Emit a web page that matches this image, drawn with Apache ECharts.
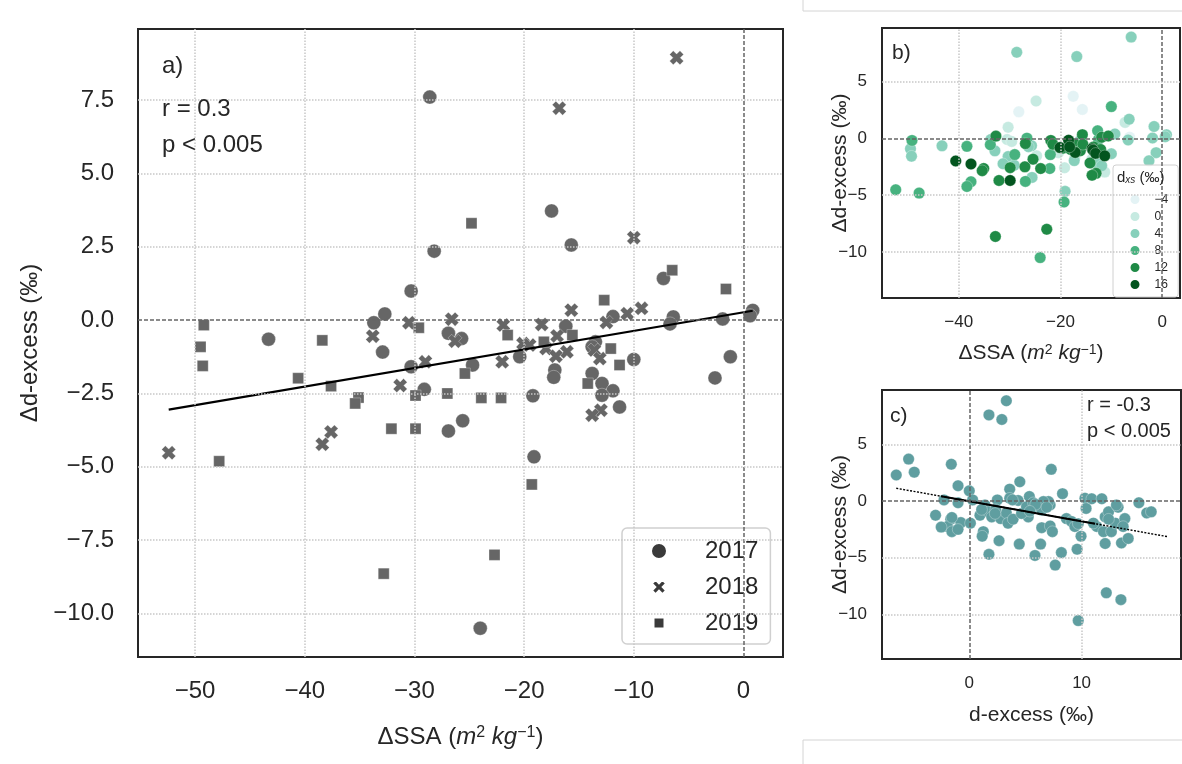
<!DOCTYPE html>
<html>
<head>
<meta charset="utf-8">
<script src="https://cdn.jsdelivr.net/npm/echarts@6/dist/echarts.min.js"></script>
<style>
  html, body { margin: 0; padding: 0; background: #fff; }
  #chart { width: 1182px; height: 764px; }
</style>
</head>
<body>
<div id="chart"></div>
<script>
// panel a / b : ΔSSA vs Δd-excess, per year
const pts2017 = [
  [-28.6, 7.6], [-28.2, 2.35], [-30.3, 0.99], [-32.7, 0.21], [-33.7, -0.09], [-26.9, -0.45], [-43.3, -0.65], [-32.9, -1.09], [-30.3, -1.59], [-29.1, -2.36],
  [-26.9, -3.78], [-25.6, -3.43], [-25.7, -0.63], [-17.5, 3.72], [-15.7, 2.56], [-7.3, 1.42], [0.84, 0.33], [0.6, 0.15], [-1.9, 0.04], [-6.4, 0.11],
  [-6.7, -0.13], [-11.9, 0.12], [-16.2, -0.21], [-13.5, -0.74], [-13.8, -0.91], [-20.4, -1.25], [-24.7, -1.53], [-10.0, -1.34], [-17.2, -1.7], [-17.3, -1.95],
  [-13.8, -1.82], [-12.9, -2.16], [-11.9, -2.41], [-12.9, -2.56], [-11.3, -2.96], [-19.2, -2.58], [-19.1, -4.66], [-24.0, -10.5], [-1.2, -1.25], [-2.6, -1.97]
];
const pts2018 = [
  [-6.1, 8.94], [-16.8, 7.22], [-10.0, 2.81], [-9.3, 0.4], [-10.6, 0.22], [-12.5, -0.08], [-15.7, 0.34], [-26.6, 0.03], [-30.5, -0.09], [-21.9, -0.17],
  [-18.4, -0.15], [-17.0, -0.54], [-26.3, -0.72], [-20.1, -0.8], [-19.5, -0.85], [-18.0, -0.97], [-13.6, -1.02], [-16.1, -1.08], [-17.1, -1.23], [-22.0, -1.42],
  [-13.1, -1.31], [-13.0, -3.07], [-13.8, -3.24], [-33.8, -0.55], [-29.0, -1.42], [-31.3, -2.23], [-37.6, -3.81], [-38.4, -4.23], [-52.4, -4.52]
];
const pts2019 = [
  [-24.8, 3.3], [-6.5, 1.7], [-1.6, 1.06], [-12.7, 0.68], [-29.6, -0.26], [-49.2, -0.17], [-38.4, -0.69], [-21.5, -0.51], [-15.6, -0.51], [-18.2, -0.74],
  [-12.1, -0.97], [-11.3, -1.53], [-25.4, -1.82], [-14.2, -2.16], [-49.5, -0.91], [-49.3, -1.56], [-40.6, -1.98], [-37.6, -2.25], [-35.1, -2.64], [-35.4, -2.84],
  [-29.9, -2.57], [-27.0, -2.5], [-23.9, -2.65], [-22.1, -2.65], [-32.1, -3.7], [-29.9, -3.7], [-47.8, -4.81], [-19.3, -5.6], [-22.7, -8.0], [-32.8, -8.64]
];
// d_xs level of each point (colour in panel b)
const lvl2017 = [4, -4, 0, 12, 4, 12, 4, 4, 4, 4, 8, 4, 4, -4, -4, 0, 4, 4, 4, -4, 4, 12, 4, 12, 16, 0, 0, 4, 0, 4, 0, 4, 4, 0, 0, 0, 4, 8, 4, 4];
const lvl2018 = [4, 4, 8, 4, 12, 8, 12, 8, 0, 12, 16, 12, 4, 16, 12, 12, 16, 12, 16, 8, 16, 12, 12, 8, 8, 4, 8, 8, 8];
const lvl2019 = [0, 4, 4, 8, 0, 8, 8, 12, 12, 16, 12, 16, 12, 12, 4, 4, 16, 16, 12, 12, 12, 12, 12, 8, 12, 16, 8, 8, 12, 12];

// panel c : d-excess vs Δd-excess
const ptsC = [
  [3.3, 8.85], [1.75, 7.6], [2.9, 7.2], [-5.4, 3.7], [-6.5, 2.3], [-4.9, 2.55], [-1.6, 3.25], [7.3, 2.8],
  [4.5, 1.7], [-1.0, 1.35], [0.0, 0.9], [3.6, 1.05], [5.35, 0.4], [8.3, 0.65],
  [-2.25, 0.1], [-1.0, -0.15], [0.3, 0.1], [1.4, -0.35], [2.5, 0.1], [3.6, 0.25], [4.35, 0.05],
  [-3.0, -1.25], [-1.65, -1.6], [-0.75, -1.9], [0.1, -1.95], [-1.95, -2.25], [-1.55, -2.7], [-1.0, -2.5],
  [0.95, -1.25], [1.7, -0.95], [2.0, -1.4], [2.8, -1.55], [3.3, -1.05], [3.45, -1.95], [3.9, -1.6],
  [5.25, -1.4], [5.55, -0.65], [6.15, -0.45], [6.75, -0.2], [7.2, -0.35], [6.45, -0.8],
  [6.45, -2.35], [7.2, -2.2], [7.4, -2.7],
  [1.25, -2.7], [1.15, -3.1], [2.65, -3.5], [1.75, -4.7], [4.45, -3.8], [5.85, -4.8], [6.35, -3.8], [7.65, -5.65], [8.2, -4.55],
  [8.65, -1.55], [9.1, -1.8], [9.95, -3.1], [9.6, -4.25],
  [10.3, 0.25], [10.9, 0.2], [11.8, 0.2], [10.4, -0.65],
  [11.35, -2.25], [11.95, -2.7], [12.1, -3.75], [12.65, -2.7], [12.1, -1.4], [12.4, -0.95], [13.25, -0.55], [13.0, -1.95], [13.85, -1.55], [13.55, -3.7], [14.15, -3.3],
  [15.1, -0.15], [15.8, -1.05], [16.2, -0.95],
  [12.2, -8.1], [13.5, -8.7], [9.7, -10.55],
  [11.05, -1.95], [9.4, -2.25], [2.35, -0.75], [3.85, 0.1], [7.05, -0.05], [4.65, -1.1], [5.1, -0.5], [5.7, -0.15], [6.6, -0.05],
  [-1.55, -1.45], [-2.5, -2.3], [1.1, -0.75], [2.3, -1.1], [5.9, -0.3], [6.9, -0.55], [5.4, -0.9], [9.7, -2.0], [12.4, -1.6], [13.7, -2.25], [13.1, -0.35]
];

// regression lines (end points as drawn)
const trendA = [[-52.4, -3.05], [0.84, 0.32]];
const trendC = [[-6.5, 1.13], [17.7, -3.15]];
const trendCsolid = [[-2.5, 0.42], [11.2, -2.0]];

// ticks
const xTicksA = [-50, -40, -30, -20, -10, 0];
const yTicksA = [-10, -7.5, -5, -2.5, 0, 2.5, 5, 7.5];
const xTicksB = [-40, -20, 0];
const yTicksB = [-10, -5, 0, 5];
const xTicksC = [0, 10];
const yTicksC = [-10, -5, 0, 5];

const years = ['2017', '2018', '2019'];
const levels = [-4, 0, 4, 8, 12, 16];
const levelColors = ['#e4f3f5', '#c6eae1', '#87d0bb', '#47b27f', '#1f8a46', '#03551f'];

const FONT = '"Liberation Sans", Arial, sans-serif';
const TXT = '#262626';
const xPath = 'path://M0,2.6L2.6,0L5,2.4L7.4,0L10,2.6L7.6,5L10,7.4L7.4,10L5,7.6L2.6,10L0,7.4L2.4,5Z';
const minus = v => String(v).replace('-', '\u2212');

function gridLines(xs, ys) {
  const grey = { type: 'dotted', color: '#c8c8c8', width: 1.5 };
  const zero = { type: [4, 2], color: '#666666', width: 1.5 };
  const data = [];
  xs.forEach(v => data.push({ xAxis: v, lineStyle: v === 0 ? zero : grey }));
  ys.forEach(v => data.push({ yAxis: v, lineStyle: v === 0 ? zero : grey }));
  if (!xs.includes(0)) data.push({ xAxis: 0, lineStyle: zero });
  return {
    silent: true, symbol: ['none', 'none'], label: { show: false },
    emphasis: { disabled: true }, animation: false, data: data
  };
}

function axis(grid, min, max, ticks, fmt, size, margin) {
  return {
    gridIndex: grid, type: 'value', min: min, max: max,
    axisLine: { show: false }, axisTick: { show: false, customValues: ticks },
    splitLine: { show: false }, nameMoveOverlap: false,
    axisLabel: { customValues: ticks, formatter: fmt, fontSize: size, color: TXT, fontFamily: FONT, margin: margin }
  };
}

const chart = echarts.init(document.getElementById('chart'));
const series = [];

// panel a
series.push({ type: 'line', xAxisIndex: 0, yAxisIndex: 0, data: [], z: 1, markLine: gridLines(xTicksA, yTicksA) });
const symA = ['circle', xPath, 'rect'];
const sizeA = [14, 14, 11];
[pts2017, pts2018, pts2019].forEach((pts, i) => {
  series.push({
    name: years[i], type: 'scatter', xAxisIndex: 0, yAxisIndex: 0, data: pts,
    symbol: symA[i], symbolSize: sizeA[i], z: 3,
    itemStyle: { color: '#666666', opacity: 1, borderColor: '#fff', borderWidth: 0.3 }
  });
});
series.push({ type: 'line', xAxisIndex: 0, yAxisIndex: 0, data: trendA, showSymbol: false, z: 4,
  lineStyle: { color: '#000', width: 2.2 } });

// panel b
series.push({ type: 'line', xAxisIndex: 1, yAxisIndex: 1, data: [], z: 1, markLine: gridLines(xTicksB, yTicksB) });
levels.forEach((lv, k) => {
  const data = [];
  [[pts2017, lvl2017], [pts2018, lvl2018], [pts2019, lvl2019]].forEach(([pts, lvl]) => {
    pts.forEach((p, j) => { if (lvl[j] === lv) data.push(p); });
  });
  series.push({
    name: minus(lv), type: 'scatter', xAxisIndex: 1, yAxisIndex: 1, data: data,
    symbol: 'circle', symbolSize: 11.5, z: 3,
    itemStyle: { color: levelColors[k], opacity: 1, borderColor: '#fff', borderWidth: 0.3 }
  });
});

// panel c
series.push({ type: 'line', xAxisIndex: 2, yAxisIndex: 2, data: [], z: 1, markLine: gridLines(xTicksC, yTicksC) });
series.push({ name: 'c', type: 'scatter', xAxisIndex: 2, yAxisIndex: 2, data: ptsC,
  symbol: 'circle', symbolSize: 11.5, z: 3,
  itemStyle: { color: '#5f9ea0', opacity: 1, borderColor: '#fff', borderWidth: 0.3 } });
series.push({ type: 'line', xAxisIndex: 2, yAxisIndex: 2, data: trendC, showSymbol: false, z: 4,
  lineStyle: { color: '#000', width: 1.4, type: [2, 1.5] } });
series.push({ type: 'line', xAxisIndex: 2, yAxisIndex: 2, data: trendCsolid, showSymbol: false, z: 4,
  lineStyle: { color: '#000', width: 2 } });

const sup = (fs) => ({ fontSize: fs, fontFamily: FONT, color: TXT, verticalAlign: 'top' });
const ital = (fs) => ({ fontSize: fs, fontFamily: FONT, color: TXT, fontStyle: 'italic' });
const ssaName = 'ΔSSA ({i|m}{s|2} {i|kg}{s|\u22121})';

const xA = axis(0, -55.2, 3.6, xTicksA, minus, 24, 22);
Object.assign(xA, { name: ssaName, nameLocation: 'middle', nameGap: 68,
  nameTextStyle: { fontSize: 24, fontFamily: FONT, color: TXT, rich: { i: ital(24), s: sup(16) } } });
const yA = axis(0, -11.48, 9.92, yTicksA, v => minus(v.toFixed(1)), 24, 24);
Object.assign(yA, { name: 'Δd-excess (‰)', nameLocation: 'middle', nameGap: 96,
  nameTextStyle: { fontSize: 24, fontFamily: FONT, color: TXT } });

const xB = axis(1, -55.1, 3.5, xTicksB, minus, 17, 16);
Object.assign(xB, { name: ssaName, nameLocation: 'middle', nameGap: 45,
  nameTextStyle: { fontSize: 21, fontFamily: FONT, color: TXT, rich: { i: ital(21), s: sup(14) } } });
const yB = axis(1, -14.06, 9.74, yTicksB, minus, 17, 15);
Object.assign(yB, { name: 'Δd-excess (‰)', nameLocation: 'middle', nameGap: 31,
  nameTextStyle: { fontSize: 21, fontFamily: FONT, color: TXT } });

const xC = axis(2, -7.77, 18.85, xTicksC, minus, 17, 16);
Object.assign(xC, { name: 'd-excess (‰)', nameLocation: 'middle', nameGap: 46,
  nameTextStyle: { fontSize: 21, fontFamily: FONT, color: TXT } });
const yC = axis(2, -13.94, 9.8, yTicksC, minus, 17, 15);
Object.assign(yC, { name: 'Δd-excess (‰)', nameLocation: 'middle', nameGap: 31,
  nameTextStyle: { fontSize: 21, fontFamily: FONT, color: TXT } });

function label(x, y, text, size) {
  return { type: 'text', x: x, y: y, z: 10,
    style: { text: text, fontSize: size, fontFamily: FONT, fill: TXT, verticalAlign: 'middle', align: 'left' } };
}
const frame = { stroke: '#d4d4d4', lineWidth: 1 };

chart.setOption({
  animation: false,
  backgroundColor: '#ffffff',
  grid: [
    { left: 138, top: 29, width: 645, height: 628, show: true, borderColor: '#262626', borderWidth: 2, backgroundColor: '#fff' },
    { left: 882, top: 28, width: 298, height: 270, show: true, borderColor: '#262626', borderWidth: 2, backgroundColor: '#fff' },
    { left: 882, top: 390, width: 299, height: 269, show: true, borderColor: '#262626', borderWidth: 2, backgroundColor: '#fff' }
  ],
  xAxis: [xA, xB, xC],
  yAxis: [yA, yB, yC],
  legend: [
    {
      data: [
        { name: '2017', icon: 'circle', itemStyle: { color: '#3a3a3a' } },
        { name: '2018', icon: 'path://M-0.6,-0.6M10.6,10.6M0,2.6L2.6,0L5,2.4L7.4,0L10,2.6L7.6,5L10,7.4L7.4,10L5,7.6L2.6,10L0,7.4L2.4,5Z', itemStyle: { color: '#3a3a3a' } },
        { name: '2019', icon: 'path://M0,0M16,16M2.5,2.5H13.5V13.5H2.5Z', itemStyle: { color: '#3a3a3a' } }
      ],
      orient: 'vertical', left: 622, top: 528, itemWidth: 16, itemHeight: 16, itemGap: 10,
      padding: [10, 12, 8, 28], borderColor: '#d0d0d0', borderWidth: 1.5, borderRadius: 5,
      backgroundColor: 'rgba(255,255,255,0.85)', selectedMode: false,
      textStyle: { fontSize: 24, color: TXT, fontFamily: FONT, lineHeight: 26, padding: [0, 0, 0, 33] }
    },
    {
      data: levels.map(v => ({ name: minus(v), icon: 'circle' })),
      orient: 'vertical', left: 1113, top: 165, itemWidth: 11, itemHeight: 11, itemGap: 4,
      padding: [28, 10, 6, 15.5], borderColor: '#d0d0d0', borderWidth: 1, borderRadius: 3,
      backgroundColor: 'rgba(255,255,255,0.85)', selectedMode: false,
      textStyle: { fontSize: 12, color: TXT, fontFamily: FONT, lineHeight: 12, padding: [0, 0, 0, 9] }
    }
  ],
  graphic: [
    label(162, 66, 'a)', 24),
    label(162, 109, 'r = 0.3', 24),
    label(162, 145, 'p < 0.005', 24),
    label(892, 53, 'b)', 21),
    label(890, 416, 'c)', 21),
    label(1087, 405, 'r = -0.3', 20),
    label(1087, 431, 'p < 0.005', 20),
    { type: 'text', x: 1117, y: 178, z: 10,
      style: { text: '{n|d}{s|xs}{n| (‰)}', verticalAlign: 'middle', align: 'left',
        rich: { n: { fontSize: 15, fontFamily: FONT, fill: TXT, color: TXT },
                s: { fontSize: 10, fontFamily: FONT, fill: TXT, color: TXT, fontStyle: 'italic', verticalAlign: 'bottom' } } } },
    { type: 'line', shape: { x1: 803, y1: 11, x2: 1182, y2: 11 }, style: frame },
    { type: 'line', shape: { x1: 803, y1: 0, x2: 803, y2: 11 }, style: frame },
    { type: 'line', shape: { x1: 803, y1: 740, x2: 1182, y2: 740 }, style: frame },
    { type: 'line', shape: { x1: 803, y1: 740, x2: 803, y2: 764 }, style: frame }
  ],
  series: series
});
</script>
</body>
</html>
